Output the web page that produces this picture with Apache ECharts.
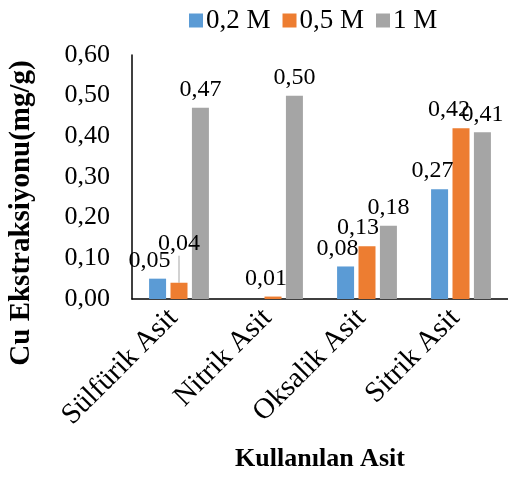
<!DOCTYPE html>
<html>
<head>
<meta charset="utf-8">
<style>
  html, body { margin: 0; padding: 0; background: #fff; }
  #chart { width: 508px; height: 477px; }
</style>
<script src="https://cdn.jsdelivr.net/npm/echarts@6/dist/echarts.min.js"></script>
</head>
<body>
<div id="chart"></div>
<script>
// Copper extraction (mg/g) by acid type and concentration
const categories = ['Sülfürik Asit', 'Nitrik Asit', 'Oksalik Asit', 'Sitrik Asit'];
const seriesNames = ['0,2 M', '0,5 M', '1 M'];
const values02 = [0.05, null, 0.08, 0.27];
const values05 = [0.04, 0.006, 0.13, 0.42];
const values1 = [0.47, 0.50, 0.18, 0.41];
const yTicks = [0, 0.1, 0.2, 0.3, 0.4, 0.5, 0.6];

const FONT = '"Liberation Serif", "Times New Roman", serif';
const colors = ['#5B9BD5', '#ED7D31', '#A5A5A5'];

const fmt = v => Number(v).toFixed(2).replace('.', ',');

// horizontal nudges for value labels that sit left of their bars
const labelNudge = [
  [-8, 0, -8, -7],
  [0, -7, -9, -12],
  [0, 0, 0, 0]
];

function makeSeries(idx, values) {
  return {
    name: seriesNames[idx],
    type: 'bar',
    data: values.map((v, i) => {
      const item = { value: v };
      // the 0,5 M sulfuric label is lifted clear of its neighbour, with a leader line
      if (idx === 1 && i === 0) {
        item.labelLine = { show: true, lineStyle: { color: '#A5A5A5', width: 1 } };
      }
      return item;
    }),
    barWidth: 17,
    barGap: '26%',
    itemStyle: { color: colors[idx] },
    label: {
      show: true,
      position: 'top',
      distance: 6,
      formatter: p => (p.value == null ? '' : fmt(p.value)),
      fontFamily: FONT,
      fontSize: 24,
      color: '#000'
    },
    labelLine: { show: false },
    labelLayout: p => {
      const out = { dx: labelNudge[idx][p.dataIndex] || 0 };
      if (idx === 1 && p.dataIndex === 0) out.dy = -21;
      return out;
    }
  };
}

const chart = echarts.init(document.getElementById('chart'));
chart.setOption({
  animation: false,
  backgroundColor: '#fff',
  legend: {
    data: seriesNames,
    left: 184,
    top: 2,
    itemWidth: 14,
    itemHeight: 14,
    itemGap: 12,
    icon: 'rect',
    textStyle: { fontFamily: FONT, fontSize: 27, color: '#000', padding: [0, 0, 0, -2] }
  },
  grid: { left: 132, right: -5, top: 55, bottom: 178, containLabel: false },
  xAxis: {
    type: 'category',
    data: categories,
    axisLine: { lineStyle: { color: '#000', width: 1.5 } },
    axisTick: { show: false },
    axisLabel: {
      rotate: 45,
      margin: 9,
      padding: [0, 8, 0, 0],
      fontFamily: FONT,
      fontSize: 29,
      color: '#000'
    },
    name: 'Kullanılan Asit',
    nameLocation: 'middle',
    nameGap: 147,
    nameTextStyle: { fontFamily: FONT, fontSize: 26, fontWeight: 'bold', color: '#000' }
  },
  yAxis: {
    type: 'value',
    min: yTicks[0],
    max: yTicks[yTicks.length - 1],
    interval: 0.1,
    axisLine: { show: true, lineStyle: { color: '#000', width: 1.5 } },
    axisTick: { show: false },
    splitLine: { show: false },
    axisLabel: {
      margin: 22,
      formatter: v => fmt(v),
      fontFamily: FONT,
      fontSize: 26,
      color: '#000'
    }
  },
  graphic: [{
    type: 'text',
    x: 22,
    y: 213,
    rotation: Math.PI / 2,
    style: {
      text: 'Cu Ekstraksiyonu(mg/g)',
      font: 'bold 29px ' + FONT,
      fill: '#000',
      textAlign: 'center',
      textVerticalAlign: 'middle'
    }
  }],
  series: [
    makeSeries(0, values02),
    makeSeries(1, values05),
    makeSeries(2, values1)
  ]
});
</script>
</body>
</html>
